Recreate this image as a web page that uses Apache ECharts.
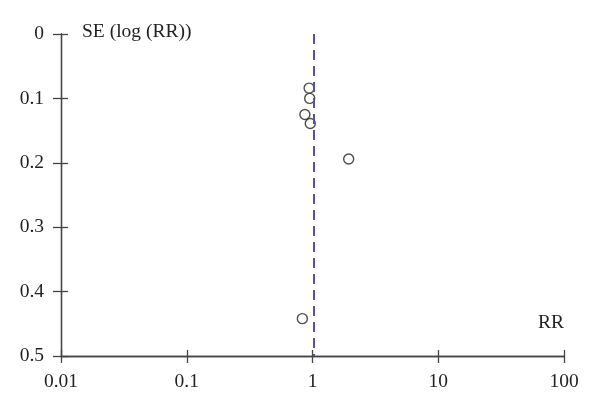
<!DOCTYPE html>
<html><head><meta charset="utf-8">
<script src="https://cdn.jsdelivr.net/npm/echarts@6/dist/echarts.min.js"></script>
<style>html,body{margin:0;padding:0;background:#fff}#c{width:600px;height:412px}</style>
</head><body><div id="c"></div>
<script>
const rrValues = [0.94, 0.95, 0.87, 0.96, 1.94, 0.83];
const seValues = [0.084, 0.100, 0.125, 0.139, 0.194, 0.442];
const pooledRR = 1.03;
const yTicks = [0, 0.1, 0.2, 0.3, 0.4, 0.5];
const xTickLabels = ['0.01', '0.1', '1', '10', '100'];
const yName = 'SE (log (RR))';
const xName = 'RR';

const font = '"Liberation Serif","DejaVu Serif",serif';
const axisColor = '#444';
const points = rrValues.map((r, i) => [r, seValues[i]]);

const baseX = {
  type: 'log', logBase: 10, min: 0.01, max: 100, position: 'bottom',
  axisLine: { show: true, onZero: false, lineStyle: { color: axisColor, width: 1.3 } },
  splitLine: { show: false }, minorTick: { show: false }
};
const baseY = {
  type: 'value', min: 0, max: 0.5, interval: 0.1, inverse: true, position: 'left',
  axisLine: { show: true, onZero: false, lineStyle: { color: axisColor, width: 1.3 } },
  splitLine: { show: false }
};

const chart = echarts.init(document.getElementById('c'), null, { renderer: 'canvas' });
chart.setOption({
  animation: false,
  backgroundColor: '#fff',
  grid: { left: 61, right: 36, top: 34, bottom: 56, containLabel: false },
  xAxis: [
    Object.assign({}, baseX, {
      axisTick: { show: true, length: 7, lineStyle: { color: axisColor, width: 1.3 } },
      axisLabel: { show: true, color: '#222', fontFamily: font, fontSize: 19.5, margin: 16,
        formatter: v => { const s = xTickLabels.find(t => Math.abs(parseFloat(t) - v) < 1e-9 * Math.max(1, v)); return s || ''; } }
    }),
    Object.assign({}, baseX, {
      axisTick: { show: true, inside: true, length: 6, lineStyle: { color: axisColor, width: 1.3 } },
      axisLabel: { show: false }
    })
  ],
  yAxis: [
    Object.assign({}, baseY, {
      axisTick: { show: true, length: 8, lineStyle: { color: axisColor, width: 1.3 } },
      axisLabel: { show: true, color: '#222', fontFamily: font, fontSize: 19.5, margin: 17,
        formatter: v => { const t = yTicks.find(k => Math.abs(k - v) < 1e-9); return t === undefined ? '' : String(t); } }
    }),
    Object.assign({}, baseY, {
      axisTick: { show: true, inside: true, length: 7, lineStyle: { color: axisColor, width: 1.3 } },
      axisLabel: { show: false }
    })
  ],
  series: [{
    type: 'scatter', xAxisIndex: 0, yAxisIndex: 0,
    data: points, symbol: 'circle', symbolSize: 10,
    itemStyle: { color: '#fff', borderColor: '#222', borderWidth: 1.4 },
    markLine: {
      silent: true, symbol: ['none', 'none'], label: { show: false },
      lineStyle: { color: '#5b4ea6', type: [10, 6], width: 2 },
      data: [{ xAxis: pooledRR }]
    },
    z: 3
  }],
  graphic: [
    { type: 'text', left: 82, top: 22, style: { text: yName, font: '19.5px ' + font, fill: '#222' } },
    { type: 'text', right: 36, top: 313, style: { text: xName, font: '19.5px ' + font, fill: '#222' } }
  ]
});
</script></body></html>
